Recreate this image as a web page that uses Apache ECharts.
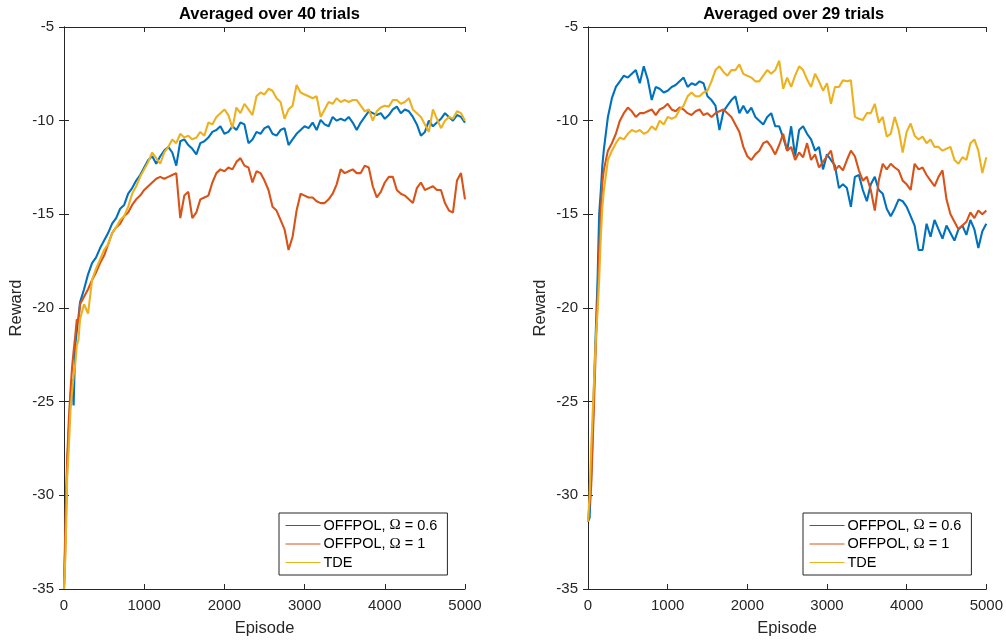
<!DOCTYPE html>
<html>
<head>
<meta charset="utf-8">
<script src="https://cdn.jsdelivr.net/npm/echarts@6/dist/echarts.min.js"></script>
<style>
  html, body { margin: 0; padding: 0; background: #fff; }
  #chart { width: 1006px; height: 642px; }
</style>
</head>
<body>
<div id="chart"></div>
<script>
var episodes = [
    0, 20, 40, 60, 80, 100, 120, 140, 160, 180,
    200, 250, 300, 350, 400, 450, 500, 550, 600, 650,
    700, 750, 800, 850, 900, 950, 1000, 1050, 1100, 1150,
    1200, 1250, 1300, 1350, 1400, 1450, 1500, 1550, 1600, 1650,
    1700, 1750, 1800, 1850, 1900, 1950, 2000, 2050, 2100, 2150,
    2200, 2250, 2300, 2350, 2400, 2450, 2500, 2550, 2600, 2650,
    2700, 2750, 2800, 2850, 2900, 2950, 3000, 3050, 3100, 3150,
    3200, 3250, 3300, 3350, 3400, 3450, 3500, 3550, 3600, 3650,
    3700, 3750, 3800, 3850, 3900, 3950, 4000, 4050, 4100, 4150,
    4200, 4250, 4300, 4350, 4400, 4450, 4500, 4550, 4600, 4650,
    4700, 4750, 4800, 4850, 4900, 4950, 5000
];

var seriesNames = ['OFFPOL, Ω = 0.6', 'OFFPOL, Ω = 1', 'TDE'];
var titles = ['Averaged over 40 trials', 'Averaged over 29 trials'];
var xTicks = [0, 1000, 2000, 3000, 4000, 5000];
var yTicks = [-35, -30, -25, -20, -15, -10, -5];

// left panel (40 trials)
var left06 = [
    -35, -32, -28.5, -26.5, -24.8, -23.8, -25.2, -22.0, -21.2, -20.5,
    -19.7, -19.0, -18.2, -17.6, -17.3, -16.8, -16.4, -16.0, -15.5, -15.2,
    -14.7, -14.5, -13.9, -13.6, -13.2, -12.9, -12.5, -12.1, -11.9, -12.3,
    -11.9, -11.6, -11.4, -11.7, -12.4, -11.1, -11.0, -11.3, -11.5, -11.8,
    -11.2, -11.1, -10.9, -10.6, -10.5, -10.3, -10.7, -10.6, -10.3, -10.5,
    -10.1, -10.2, -11.2, -11.0, -10.6, -10.7, -10.4, -10.3, -10.7, -10.8,
    -10.5, -10.4, -11.3, -11.0, -10.7, -10.5, -10.3, -10.4, -10.1, -10.5,
    -9.96, -10.2, -10.3, -9.8, -10.0, -9.9, -10.0, -9.8, -10.1, -10.5,
    -10.1, -9.8, -9.5, -9.6, -9.7, -9.6, -9.9, -9.7, -9.4, -9.25,
    -9.6, -9.4, -9.5, -9.8, -10.2, -10.8, -10.6, -10.0, -10.3, -10.1,
    -9.9, -9.6, -9.8, -10.0, -9.7, -9.8, -10.1
];
var left1 = [
    -35, -31, -28, -26, -24.5, -23.2, -22.3, -21.5, -20.6, -20.8,
    -19.8, -19.4, -19.0, -18.5, -18.1, -17.6, -17.2, -16.6, -16.0, -15.7,
    -15.5, -15.1, -14.9, -14.5, -14.2, -14.0, -13.7, -13.5, -13.3, -13.1,
    -13.0, -13.1, -13.0, -12.9, -12.8, -15.2, -14.0, -13.8, -15.2, -14.9,
    -14.2, -14.1, -14.0, -13.3, -12.8, -12.6, -12.7, -12.5, -12.6, -12.2,
    -12.0, -12.4, -12.5, -13.3, -12.7, -12.8, -13.2, -13.7, -14.6, -14.8,
    -15.3, -15.8, -16.9, -16.2, -14.8, -13.9, -14.0, -14.1, -14.1, -14.3,
    -14.4, -14.4, -14.2, -13.9, -13.4, -12.6, -12.8, -12.7, -12.6, -12.8,
    -12.8, -12.4, -12.5, -13.5, -14.1, -13.8, -13.3, -13.0, -13.0, -13.7,
    -13.9, -14.0, -14.2, -14.4, -13.6, -13.3, -13.7, -13.6, -13.5, -13.7,
    -13.7, -14.4, -14.8, -14.9, -13.2, -12.8, -14.2
];
var leftTde = [
    -35, -33, -29, -27.5, -25.5, -24.5, -23.6, -23.0, -22.0, -21.7,
    -20.6, -19.8, -20.3, -18.5, -17.9, -17.4, -16.9, -16.6, -16.0, -15.7,
    -15.3, -15.1, -14.6, -13.9, -13.5, -13.0, -12.6, -12.2, -11.7, -12.0,
    -12.3, -11.7, -11.4, -11.0, -11.2, -10.7, -10.9, -10.8, -11.0, -10.9,
    -10.6, -10.8, -10.1, -10.2, -9.8, -9.6, -9.4, -9.7, -10.4, -9.3,
    -9.6, -9.1, -9.4, -9.7, -8.7, -8.5, -8.6, -8.3, -8.4, -8.8,
    -9.0, -9.9, -9.4, -9.2, -8.1, -8.5, -8.6, -8.7, -8.8, -8.7,
    -9.8, -9.4, -9.0, -9.1, -8.8, -9.0, -8.9, -9.0, -8.9, -8.9,
    -9.2, -9.5, -9.4, -10.0, -9.5, -9.3, -9.2, -9.25, -8.9, -8.9,
    -9.1, -9.0, -8.8, -9.4, -9.6, -9.8, -10.2, -10.6, -9.4, -9.9,
    -10.4, -10.0, -9.8, -9.9, -9.5, -9.6, -10.0
];

// right panel (29 trials)
var right06 = [
    -31.4, -31.2, -29.0, -26.5, -23.5, -21.0, -18.5, -15.0, -13.8, -12.4,
    -11.5, -9.8, -8.8, -8.2, -7.9, -7.6, -7.7, -7.5, -7.3, -8.0,
    -7.1, -7.8, -8.9, -8.2, -8.3, -8.5, -8.4, -8.2, -8.1, -7.9,
    -7.7, -8.2, -8.0, -8.1, -7.9, -8.0, -8.7, -8.9, -9.2, -10.5,
    -9.5, -9.2, -8.9, -8.7, -9.6, -9.2, -9.6, -9.3, -9.8, -10.0,
    -10.2, -9.8, -9.6, -10.3, -10.3, -10.9, -11.6, -10.3, -11.9, -10.5,
    -10.3, -10.7, -11.0, -11.6, -11.4, -12.6, -11.8, -12.1, -12.4, -13.6,
    -13.4, -13.6, -14.6, -13.0, -12.9, -13.7, -14.3, -13.4, -13.0, -13.7,
    -13.9, -14.7, -15.1, -14.7, -14.2, -14.3, -14.6, -15.1, -15.6, -16.9,
    -16.9, -15.5, -16.2, -15.3, -15.8, -16.3, -15.6, -16.0, -16.4, -15.8,
    -15.6, -16.1, -15.3, -15.8, -16.8, -15.9, -15.5
];
var right1 = [
    -31.4, -31.3, -29.5, -27.0, -24.5, -21.8, -19.5, -17.0, -15.0, -13.3,
    -12.6, -11.6, -11.2, -10.7, -10.0, -9.6, -9.3, -9.5, -9.8, -9.6,
    -9.6, -9.5, -9.4, -9.7, -9.4, -9.3, -9.1, -9.4, -9.5, -9.3,
    -9.4, -9.6, -9.7, -9.5, -9.4, -9.7, -9.6, -9.8, -9.6, -9.5,
    -9.4, -9.6, -9.8, -10.2, -10.6, -11.4, -11.9, -12.1, -11.8, -11.6,
    -11.2, -11.1, -11.4, -11.8, -11.3, -10.7, -11.6, -11.4, -12.1, -11.7,
    -11.95, -11.2, -12.1, -11.8, -12.5, -12.2, -11.9, -11.6, -12.65, -12.4,
    -12.65, -12.1, -11.6, -11.9, -12.65, -13.2, -13.0, -13.7, -14.8, -13.2,
    -12.3, -12.6, -12.3, -12.5, -12.65, -13.2, -13.4, -13.7, -12.3, -12.6,
    -12.5, -12.9, -13.2, -13.5, -13.0, -12.65, -14.2, -15.0, -15.4, -15.8,
    -15.6, -15.4, -14.9, -15.2, -14.8, -15.0, -14.8
];
var rightTde = [
    -31.4, -30.0, -27.5, -25.5, -23.5, -21.5, -20.2, -18.5, -16.3, -14.6,
    -13.7, -12.1, -11.6, -11.2, -10.9, -11.0, -10.7, -10.5, -10.6, -10.5,
    -10.7, -10.6, -10.3, -10.5, -10.0, -10.2, -9.8, -9.9, -9.8, -9.4,
    -9.2, -8.7, -8.5, -8.7, -8.7, -8.5, -8.4, -7.9, -7.3, -7.1,
    -7.4, -7.6, -7.3, -7.3, -7.0, -7.5, -7.6, -7.7, -7.9, -7.9,
    -7.6, -7.3, -7.5, -7.3, -6.8, -8.3, -7.7, -8.2, -7.6, -7.1,
    -7.3, -7.8, -8.2, -7.5, -7.9, -8.4, -8.0, -9.1, -8.2, -8.2,
    -7.85, -7.9, -7.85, -9.8, -9.9, -9.96, -9.6, -9.6, -9.1, -10.1,
    -9.8, -10.85, -10.7, -9.8, -10.5, -11.7, -10.6, -10.15, -10.8, -11.0,
    -10.85, -11.2, -11.0, -11.4, -11.4, -11.6, -11.5, -11.4, -12.1, -12.3,
    -11.95, -12.1, -11.2, -11.0, -11.6, -12.8, -11.95
];

var colors = ['#0072BD', '#D95319', '#EDB120'];
var font = "'Liberation Sans', Arial, Helvetica, sans-serif";
var ink = '#262626';

function pairs(vals) {
    return episodes.map(function (e, i) { return [e, vals[i]]; });
}

// bottom/left axes carry the labels, top/right only close the box and repeat the ticks
function xAxes(grid) {
    var base = {
        gridIndex: grid, type: 'value', min: xTicks[0], max: xTicks[xTicks.length - 1], interval: 1000,
        axisLine: { show: true, lineStyle: { color: ink, width: 1 } },
        axisTick: { show: true, inside: true, length: 5, lineStyle: { color: ink } },
        splitLine: { show: false }
    };
    var bottom = Object.assign({}, base, {
        position: 'bottom',
        name: 'Episode', nameLocation: 'middle', nameGap: 31,
        nameTextStyle: { color: ink, fontSize: 16.5, fontFamily: font },
        axisLabel: { color: ink, fontSize: 15, fontFamily: font, margin: 9,
                     formatter: function (v) { return String(v); } }
    });
    var top = Object.assign({}, base, { position: 'top', axisLabel: { show: false } });
    return [bottom, top];
}
function yAxes(grid) {
    var base = {
        gridIndex: grid, type: 'value', min: yTicks[0], max: yTicks[yTicks.length - 1], interval: 5,
        axisLine: { show: true, lineStyle: { color: ink, width: 1 } },
        axisTick: { show: true, inside: true, length: 5, lineStyle: { color: ink } },
        splitLine: { show: false }
    };
    var left = Object.assign({}, base, {
        position: 'left',
        name: 'Reward', nameLocation: 'middle', nameGap: 39,
        nameTextStyle: { color: ink, fontSize: 16.5, fontFamily: font },
        axisLabel: { color: ink, fontSize: 15, fontFamily: font, margin: 10,
                     formatter: function (v) { return String(v); } }
    });
    var right = Object.assign({}, base, { position: 'right', axisLabel: { show: false } });
    return [left, right];
}

function panelSeries(axisIdx, vals) {
    return vals.map(function (v, k) {
        return {
            name: seriesNames[k],
            type: 'line',
            xAxisIndex: axisIdx, yAxisIndex: axisIdx,
            data: pairs(v),
            showSymbol: false, symbol: 'none',
            lineStyle: { color: colors[k], width: 2.1 },
            itemStyle: { color: colors[k] },
            silent: true
        };
    });
}

function legendAt(leftPx) {
    return {
        left: leftPx, top: 513,
        orient: 'vertical',
        data: seriesNames,
        itemWidth: 35, itemHeight: 14, itemGap: 3.5,
        padding: [5, 10, 5, 6],
        borderColor: ink, borderWidth: 1, backgroundColor: '#fff',
        lineStyle: { width: 1, opacity: 1 },
        itemStyle: { opacity: 0, borderWidth: 0 },
        selectedMode: false,
        formatter: function (n) { return n.replace('Ω', '{o|Ω}'); },
        textStyle: {
            color: '#000', fontSize: 14.5, fontFamily: font, padding: [0, 0, 0, -2],
            rich: { o: { fontFamily: "'Liberation Serif', 'Times New Roman', serif", fontSize: 15, color: '#000' } }
        }
    };
}

var chart = echarts.init(document.getElementById('chart'), null, { renderer: 'canvas' });
chart.setOption({
    animation: false,
    backgroundColor: '#fff',
    color: colors,
    title: [
        { text: titles[0], left: 264.5, top: 1, textAlign: 'center',
          textStyle: { color: '#000', fontSize: 16.5, fontWeight: 'bold', fontFamily: font } },
        { text: titles[1], left: 788.8, top: 1, textAlign: 'center',
          textStyle: { color: '#000', fontSize: 16.5, fontWeight: 'bold', fontFamily: font } }
    ],
    legend: [legendAt(279), legendAt(803)],
    grid: [
        { left: 64, top: 27, width: 401, height: 562, containLabel: false },
        { left: 588, top: 27, width: 401, height: 562, containLabel: false }
    ],
    xAxis: xAxes(0).concat(xAxes(1)),
    yAxis: yAxes(0).concat(yAxes(1)),
    series: panelSeries(0, [left06, left1, leftTde]).concat(panelSeries(2, [right06, right1, rightTde]))
});
</script>
</body>
</html>
